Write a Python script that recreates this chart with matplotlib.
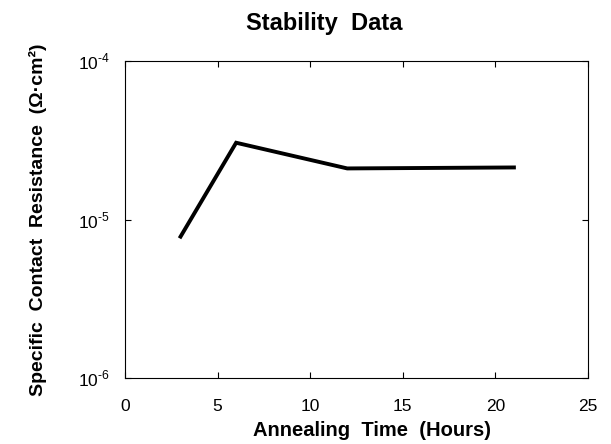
import matplotlib
matplotlib.use('Agg')
import matplotlib.pyplot as plt
from matplotlib.ticker import FixedLocator, FixedFormatter, NullLocator
import numpy as np

plt.rcParams['font.family'] = ['Liberation Sans', 'DejaVu Sans']
plt.rcParams['mathtext.fontset'] = 'custom'
plt.rcParams['mathtext.rm'] = 'Liberation Sans'

hours = np.array([3, 6, 12, 21])
resistance = np.array([7.8e-6, 3.05e-5, 2.1e-5, 2.13e-5])

x_ticks = [0, 5, 10, 15, 20, 25]
y_ticks = [1e-6, 1e-5, 1e-4]
y_tick_labels = [r'$10^{\text{-6}}$', r'$10^{\text{-5}}$', r'$10^{\text{-4}}$']

fig = plt.figure(figsize=(6.11, 4.44), dpi=100)
ax = fig.add_axes([125 / 611, 1 - 378 / 444, (588 - 125) / 611, (378 - 61) / 444])

ax.plot(hours, resistance, color='black', linewidth=2.8, solid_joinstyle='miter')

ax.set_yscale('log')
ax.set_xlim(0, 25)
ax.set_ylim(1e-6, 1e-4)
ax.set_xticks(x_ticks)
ax.yaxis.set_major_locator(FixedLocator(y_ticks))
ax.yaxis.set_major_formatter(FixedFormatter(y_tick_labels))
ax.yaxis.set_minor_locator(NullLocator())
ax.tick_params(direction='in', length=4, width=0.8, top=True, right=True,
               labelsize=12.5)
ax.tick_params(axis='x', pad=15)
ax.tick_params(axis='y', pad=11)

for s in ax.spines.values():
    s.set_linewidth(0.8)

# title and x label sit a bit off-centre in the original
ax.set_title('Stability  Data', fontsize=17, fontweight='bold', pad=22,
             x=(324 - 125) / 463)
ax.set_xlabel('Annealing  Time  (Hours)', fontsize=14.5, fontweight='bold',
              labelpad=5, x=(372 - 125) / 463)
ax.set_ylabel('Specific  Contact  Resistance  (Ω·cm²)', fontsize=14,
              fontweight='bold', labelpad=22)

plt.savefig('out.png', dpi=100)
